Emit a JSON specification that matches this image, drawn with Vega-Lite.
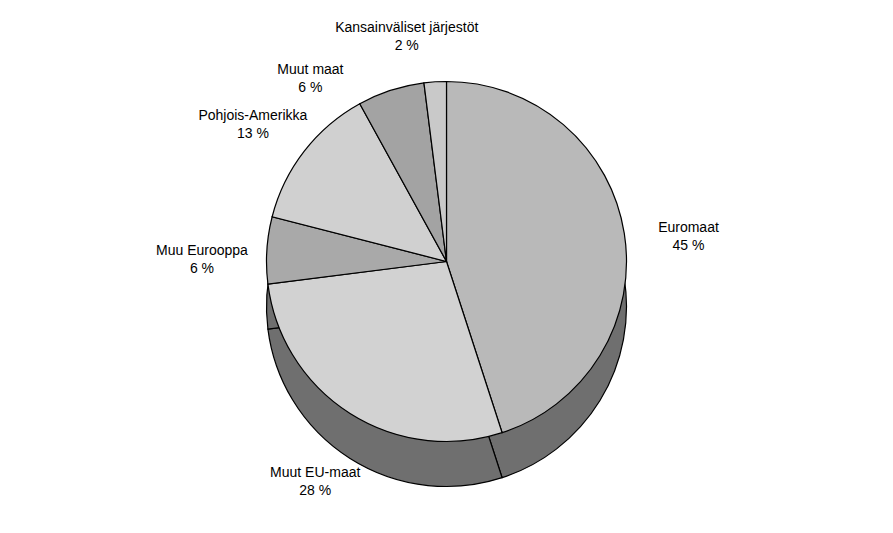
{
  "$schema": "https://vega.github.io/schema/vega-lite/v6.json",
  "width": 893,
  "height": 533,
  "autosize": {"type": "fit", "contains": "padding"},
  "background": "white",
  "config": {"view": {"stroke": null}, "font": "Liberation Sans"},
  "data": {
    "values": [
      {"alue": "Euromaat", "osuus": 45, "jarj": 1, "label": "Euromaat\n45 %"},
      {"alue": "Muut EU-maat", "osuus": 28, "jarj": 2, "label": "Muut EU-maat\n28 %"},
      {"alue": "Muu Eurooppa", "osuus": 6, "jarj": 3, "label": "Muu Eurooppa\n6 %"},
      {"alue": "Pohjois-Amerikka", "osuus": 13, "jarj": 4, "label": "Pohjois-Amerikka\n13 %"},
      {"alue": "Muut maat", "osuus": 6, "jarj": 5, "label": "Muut maat\n6 %"},
      {"alue": "Kansainväliset järjestöt", "osuus": 2, "jarj": 6, "label": "Kansainväliset järjestöt\n2 %"}
    ]
  },
  "encoding": {
    "theta": {"field": "osuus", "type": "quantitative", "stack": true},
    "order": {"field": "jarj", "type": "quantitative"}
  },
  "layer": [
    {
      "mark": {"type": "arc", "outerRadius": 180, "yOffset": 40, "fill": "#6f6f6f", "stroke": "black", "strokeWidth": 1.2}
    },
    {
      "mark": {"type": "arc", "outerRadius": 180, "yOffset": -5, "stroke": "black", "strokeWidth": 1.2},
      "encoding": {
        "color": {
          "field": "alue",
          "type": "nominal",
          "legend": null,
          "scale": {
            "domain": ["Euromaat", "Muut EU-maat", "Muu Eurooppa", "Pohjois-Amerikka", "Muut maat", "Kansainväliset järjestöt"],
            "range": ["#b9b9b9", "#d2d2d2", "#a9a9a9", "#d0d0d0", "#a3a3a3", "#c9c9c9"]
          }
        }
      }
    },
    {
      "mark": {"type": "text", "radius": 245, "fontSize": 14, "lineBreak": "\n", "align": "center", "baseline": "middle", "color": "black", "lineHeight": 18},
      "encoding": {
        "text": {"field": "label"},
        "opacity": {"condition": {"test": "datum.jarj <= 4", "value": 1}, "value": 0}
      }
    },
    {
      "mark": {"type": "text", "radius": 230, "dx": -65, "dy": 22, "fontSize": 14, "lineBreak": "\n", "align": "center", "baseline": "middle", "color": "black", "lineHeight": 18},
      "encoding": {
        "text": {"field": "label"},
        "opacity": {"condition": {"test": "datum.jarj == 5", "value": 1}, "value": 0}
      }
    },
    {
      "mark": {"type": "text", "radius": 235, "dx": -25, "dy": -4, "fontSize": 14, "lineBreak": "\n", "align": "center", "baseline": "middle", "color": "black", "lineHeight": 18},
      "encoding": {
        "text": {"field": "label"},
        "opacity": {"condition": {"test": "datum.jarj == 6", "value": 1}, "value": 0}
      }
    }
  ]
}
